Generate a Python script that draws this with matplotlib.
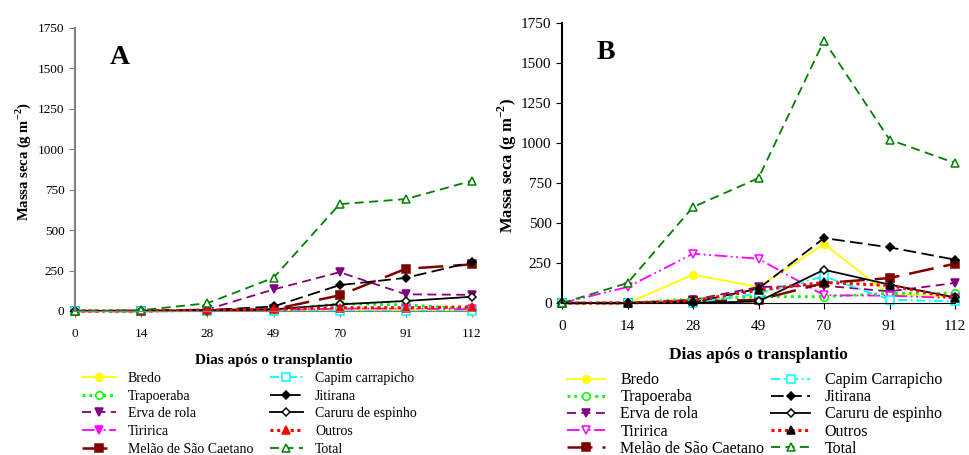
import numpy as np
import matplotlib.pyplot as plt

plt.rcParams['font.family'] = ['Liberation Serif', 'DejaVu Serif']
plt.rcParams['mathtext.fontset'] = 'custom'
plt.rcParams['mathtext.rm'] = 'Liberation Serif'
plt.rcParams['mathtext.bf'] = 'Liberation Serif:bold'

dias = ['0', '14', '28', '49', '70', '91', '112']

especies = ['Bredo', 'Trapoeraba', 'Erva de rola', 'Tiririca', 'Melão de São Caetano',
            'Capim carrapicho', 'Jitirana', 'Caruru de espinho', 'Outros', 'Total']
especies_b = ['Bredo', 'Trapoeraba', 'Erva de rola', 'Tiririca', 'Melão de São Caetano',
              'Capim Carrapicho', 'Jitirana', 'Caruru de espinho', 'Outros', 'Total']

# painel A (g m-2)
bredo_a = [0, 0, 0, 0, 5, 5, 2]
trapoeraba_a = [0, 0, 2, 5, 45, 38, 12]
erva_a = [0, 0, 10, 133, 240, 103, 100]
tiririca_a = [0, 0, 5, 5, 15, 15, 10]
melao_a = [0, 0, 5, 10, 97, 261, 288]
capim_a = [0, 0, 0, 0, 0, 0, 0]
jitirana_a = [0, 0, 5, 28, 160, 205, 302]
caruru_a = [0, 0, 0, 10, 41, 62, 88]
outros_a = [0, 0, 5, 10, 20, 20, 25]
total_a = [0, 5, 48, 205, 661, 692, 805]

# painel B (g m-2)
bredo_b = [0, 0, 177, 100, 369, 52, 38]
trapoeraba_b = [0, 0, 25, 40, 40, 60, 62]
erva_b = [0, 0, 20, 100, 108, 73, 125]
tiririca_b = [0, 100, 308, 277, 48, 46, 30]
melao_b = [0, 0, 10, 20, 125, 156, 246]
capim_b = [0, 0, 0, 60, 167, 21, 10]
jitirana_b = [0, 0, 5, 90, 406, 348, 271]
caruru_b = [0, 0, 0, 10, 208, 115, 35]
outros_b = [0, 0, 15, 80, 129, 110, 30]
total_b = [0, 125, 600, 781, 1640, 1021, 875]


def estilos(painel):
    tir_face = 'magenta' if painel == 'A' else 'white'
    out_mark = 'red' if painel == 'A' else 'black'
    return [
        dict(color='yellow', ls='-', marker='o', mfc='yellow', mec='yellow'),
        dict(color='lime', ls=(0, (1, 1.5)), lw=2, marker='o', mfc='white', mec='lime'),
        dict(color='purple', ls=(0, (5, 3)), marker='v', mfc='purple', mec='purple'),
        dict(color='magenta', ls=(0, (7, 2, 1, 2, 1, 2)), marker='v', mfc=tir_face, mec='magenta'),
        dict(color='#800000', ls=(0, (10, 4)), lw=1.8, marker='s', mfc='#800000', mec='#800000'),
        dict(color='cyan', ls=(0, (5, 2, 1, 2)), marker='s', mfc='white', mec='cyan'),
        dict(color='black', ls=(0, (7, 3)), marker='D', mfc='black', mec='black', ms=4.5),
        dict(color='black', ls='-', marker='D', mfc='white', mec='black', ms=4.5),
        dict(color='red', ls=(0, (1, 1.2)), lw=2.2, marker='^', mfc=out_mark, mec=out_mark),
        dict(color='green', ls=(0, (5, 3)), marker='^', mfc='white', mec='green'),
    ]


def painel(ax, series, nomes, letra, spine_cor, fs_tick, fs_leg, leg_pos, colsp, lblsp, txtpad, ylab_pos):
    x = np.arange(len(dias))
    for vals, nome, st in zip(series, nomes, estilos(letra)):
        lw = st.pop('lw', 1.3)
        ms = st.pop('ms', 5.5)
        ax.plot(x, vals, label=nome, lw=lw, ms=ms, mew=1.1, clip_on=False, **st)
    ax.set_xlim(0, 6)
    ax.set_ylim(0, 1750)
    ax.set_yticks(np.arange(0, 1751, 250))
    ax.set_xticks(x)
    ax.set_xticklabels(dias)
    ax.spines['top'].set_visible(False)
    ax.spines['right'].set_visible(False)
    ax.spines['left'].set_color(spine_cor)
    ax.spines['bottom'].set_color(spine_cor)
    ax.spines['left'].set_linewidth(1.5)
    ax.tick_params(axis='both', labelsize=fs_tick, color=spine_cor, length=4)
    ax.tick_params(axis='x', pad=8)
    ax.set_ylabel('Massa seca (g m$^{\\mathbf{-2}}$)', fontweight='bold', fontsize=fs_tick + 1)
    ax.yaxis.set_label_coords(*ylab_pos)
    ax.set_xlabel('Dias após o transplantio', fontweight='bold', fontsize=fs_tick + 1.5, labelpad=10)
    ax.text(0.087, 0.873, letra, transform=ax.transAxes, fontsize=20, fontweight='bold')
    ax.legend(loc='upper left', bbox_to_anchor=leg_pos, bbox_transform=ax.figure.transFigure,
              ncol=2, frameon=False, fontsize=fs_leg, handlelength=2.4, handletextpad=txtpad,
              labelspacing=lblsp, columnspacing=colsp, borderpad=0, borderaxespad=0)


fig = plt.figure(figsize=(9.69, 4.55), dpi=100)
ax1 = fig.add_axes([0.0774, 0.3165, 0.4097, 0.622])
ax2 = fig.add_axes([0.580, 0.334, 0.4056, 0.6154])

painel(ax1, [bredo_a, trapoeraba_a, erva_a, tiririca_a, melao_a, capim_a, jitirana_a,
             caruru_a, outros_a, total_a], especies, 'A', '#808080', 9.5, 10,
       (0.085, 0.182), 1.2, 0.33, 0.86, (-0.105, 0.527))
painel(ax2, [bredo_b, trapoeraba_b, erva_b, tiririca_b, melao_b, capim_b, jitirana_b,
             caruru_b, outros_b, total_b], especies_b, 'B', 'black', 11, 11.5,
       (0.585, 0.182), 0.45, 0.07, 0.94, (-0.11, 0.49))

plt.savefig('out.png', dpi=100)
